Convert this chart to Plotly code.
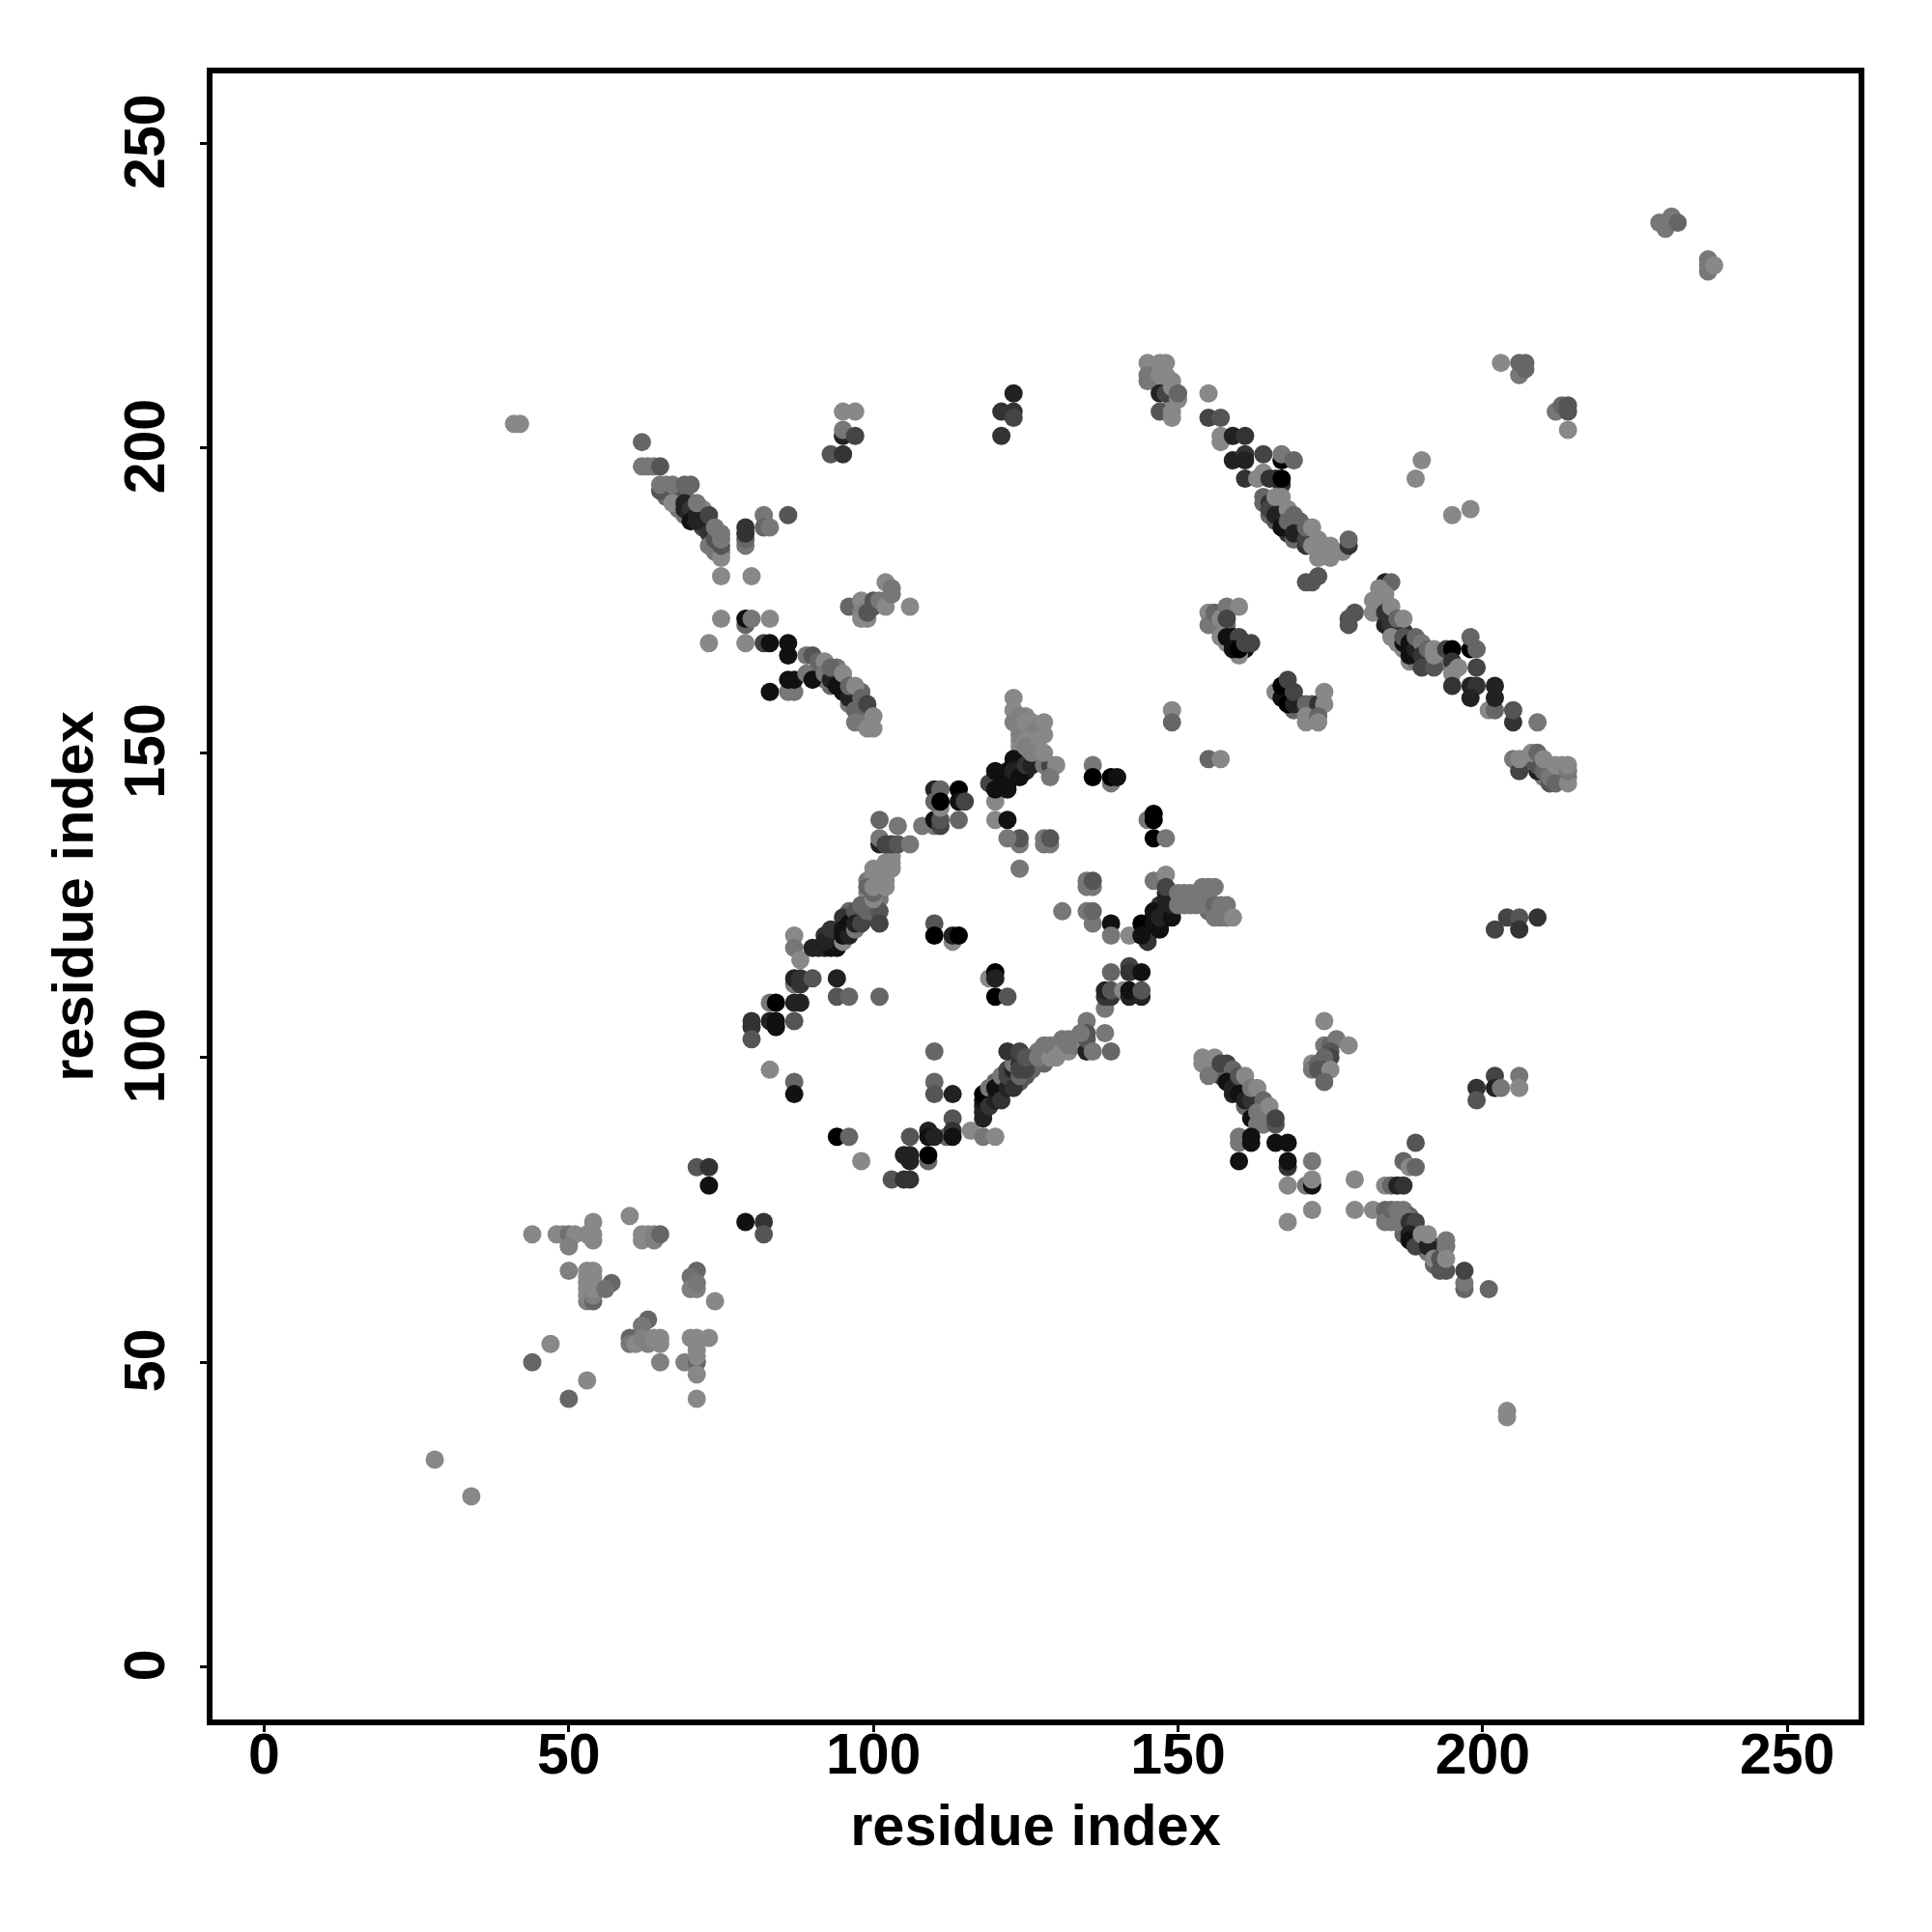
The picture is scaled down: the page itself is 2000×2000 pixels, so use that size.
import plotly.graph_objects as go

far_lower = [(28,34,0x88),(34,28,0x88),(204,42,0x88),(204,41,0x88),(41,204,0x88),(42,204,0x88)]
region_50 = [(44,71,0x88),(44,50,0x66),(47,53,0x88),(50,44,0x66),(53,47,0x88),(48,71,0x88),(49,71,0x88),(50,71,0x70),(51,71,0x88),(50,69,0x80),(54,73,0x88),(54,71,0x88),(54,70,0x88),(53,71,0x88),(60,74,0x88),(62,71,0x88),(62,70,0x88),(63,71,0x88),(64,70,0x80),(64,71,0x80),(65,71,0x66),(50,65,0x80),(53,60,0x80),(53,61,0x88),(53,62,0x88),(53,63,0x88),(53,64,0x88),(53,65,0x88),(54,60,0x66),(54,61,0x80),(54,62,0x88),(54,63,0x88),(54,64,0x88),(54,65,0x88),(57,63,0x66),(56,62,0x70),(71,65,0x66),(70,64,0x70),(70,62,0x80),(71,62,0x80),(71,63,0x77),(74,60,0x88),(63,57,0x66),(62,56,0x77),(60,54,0x66),(60,53,0x77),(61,53,0x88),(62,54,0x80),(63,53,0x80),(64,54,0x88),(65,54,0x88),(65,53,0x88),(65,50,0x80),(69,50,0x80),(71,50,0x66),(71,48,0x88),(71,51,0x88),(71,52,0x88),(70,54,0x88),(71,54,0x88),(73,54,0x88),(71,44,0x88)]
diagonal_low = [(71,82,0x55),(73,82,0x33),(73,79,0x11),(79,73,0x11),(82,73,0x33),(82,71,0x55),(94,87,0x00),(96,87,0x66),(98,83,0x88)]
left_arc = [(80,106,0x33),(80,105,0x33),(80,103,0x55),(83,98,0x88),(83,106,0x22),(84,105,0x11),(84,106,0x11),(83,109,0x77),(84,109,0x00),(87,106,0x55),(87,96,0x66),(87,94,0x11),(87,112,0x77),(87,109,0x22),(88,109,0x22),(87,113,0x22),(88,113,0x33),(88,112,0x33),(90,113,0x55),(94,113,0x22),(94,110,0x55),(96,110,0x66),(101,110,0x66),(87,120,0x88),(87,118,0x77),(88,116,0x88),(90,118,0x22),(91,118,0x22),(92,118,0x22),(93,118,0x11),(94,118,0x11),(92,119,0x22),(93,121,0x33),(95,119,0x88),(95,123,0x33),(95,121,0x11),(95,120,0x11),(96,120,0x22),(96,122,0x11),(97,121,0x77),(97,124,0x55),(97,122,0x22),(98,122,0x44),(98,125,0x66),(99,124,0x66),(100,125,0x66),(101,124,0x55),(101,122,0x44),(100,126,0x88),(99,128,0x66),(100,127,0x66),(100,128,0x88),(100,131,0x88),(101,130,0x88),(101,129,0x88),(102,129,0x88),(102,128,0x88),(103,132,0x88),(103,131,0x88),(102,132,0x88),(101,135,0x22),(101,139,0x66),(101,136,0x77),(102,135,0x44),(103,135,0x44),(104,135,0x55),(104,138,0x77),(106,135,0x77),(108,138,0x77),(110,138,0x77),(110,139,0x11),(111,138,0x44),(111,139,0x55),(111,141,0x88),(114,139,0x66),(110,144,0x22),(111,144,0x66),(110,142,0x66),(111,142,0x00),(114,144,0x00),(114,142,0x11),(115,142,0x44)]
inner = [(110,122,0x55),(110,120,0x00),(113,119,0x88),(113,120,0x22),(114,120,0x00),(119,113,0x88),(120,114,0x00),(120,113,0x22),(120,110,0x00),(122,110,0x55)]
lower_arc = [(110,101,0x66),(110,96,0x66),(110,94,0x55),(113,94,0x22),(113,90,0x55),(112,87,0x66),(113,88,0x33),(113,87,0x11),(109,88,0x22),(109,87,0x11),(110,87,0x22),(106,87,0x55),(116,88,0x88),(118,87,0x77),(120,87,0x88),(109,83,0x66),(109,84,0x00),(106,84,0x22),(105,84,0x22),(106,83,0x22),(103,80,0x55),(105,80,0x33),(106,80,0x33),(118,90,0x22),(118,91,0x22),(118,92,0x22),(118,93,0x11),(118,94,0x00),(119,92,0x33),(119,95,0x77),(120,93,0x22),(120,95,0x11),(121,93,0x33),(121,96,0x11),(121,97,0x77),(122,95,0x22),(122,97,0x44),(122,98,0x44),(123,95,0x33),(123,98,0x22),(123,99,0x77),(124,97,0x66),(124,99,0x33),(124,98,0x44),(125,98,0x44),(122,101,0x33),(124,101,0x44),(125,100,0x55),(128,99,0x66),(127,100,0x77),(128,102,0x77),(129,100,0x88),(129,102,0x77),(130,100,0x88),(131,101,0x88),(131,103,0x77),(132,102,0x77),(132,103,0x77),(135,101,0x22),(135,106,0x77),(135,104,0x55),(135,103,0x55),(134,104,0x77),(136,101,0x77),(138,104,0x77),(139,101,0x66)]
right_arc = [(138,108,0x77),(138,110,0x33),(139,110,0x33),(138,111,0x22),(139,111,0x55),(139,114,0x66),(141,111,0x88),(142,110,0x22),(142,111,0x11),(142,115,0x44),(142,114,0x33),(144,114,0x11),(144,110,0x22),(144,111,0x55),(139,122,0x11),(136,122,0x77),(135,124,0x77),(136,124,0x66),(131,124,0x77),(139,120,0x77),(142,120,0x88),(135,129,0x77),(135,128,0x77),(136,128,0x77),(136,129,0x55),(145,119,0x33),(144,122,0x00),(144,120,0x11),(146,124,0x11),(146,122,0x11),(147,121,0x11),(147,123,0x22),(148,126,0x22),(148,124,0x22),(149,123,0x11),(149,125,0x22),(146,129,0x77),(148,130,0x88),(148,128,0x44),(150,127,0x77),(151,127,0x77),(152,127,0x77),(150,125,0x77),(151,125,0x77),(152,125,0x77),(153,125,0x77),(154,128,0x77),(155,128,0x77),(156,128,0x77),(154,125,0x77),(156,125,0x66),(156,123,0x77),(157,125,0x77),(157,123,0x77),(159,123,0x88)]
top_arc = [(145,139,0x77),(146,140,0x00),(146,139,0x00),(146,136,0x00),(148,136,0x77),(136,148,0x77),(136,146,0x00),(139,145,0x77),(139,146,0x00),(140,146,0x11),(128,136,0x77),(128,135,0x77),(129,135,0x77),(129,136,0x55),(124,135,0x77),(124,136,0x55),(122,136,0x77),(124,131,0x77),(120,139,0x88),(122,139,0x11),(120,142,0x88),(119,145,0x44),(120,144,0x11),(120,147,0x11),(121,145,0x11),(122,144,0x11),(122,147,0x11),(123,149,0x11),(123,147,0x22),(124,146,0x11),(125,148,0x33),(126,148,0x22),(128,148,0x77),(129,148,0x44),(130,148,0x88),(129,146,0x77),(123,159,0x88),(123,157,0x88),(124,156,0x80),(123,155,0x80),(124,154,0x80),(125,155,0x88),(127,154,0x80),(128,155,0x88),(128,153,0x88),(126,153,0x80),(125,152,0x88),(127,152,0x88),(125,151,0x80),(127,151,0x88),(126,150,0x80),(128,150,0x88),(149,157,0x88),(149,155,0x66),(155,149,0x66),(157,149,0x88)]
upper_left_strand = [(62,201,0x66),(62,197,0x77),(63,197,0x77),(64,197,0x77),(65,197,0x55),(65,193,0x55),(65,194,0x77),(66,194,0x77),(67,192,0x55),(67,191,0x88),(67,194,0x77),(69,194,0x66),(70,194,0x66),(69,189,0x77),(69,191,0x22),(69,190,0x22),(70,190,0x33),(70,188,0x11),(71,189,0x22),(71,188,0x22),(71,191,0x77),(73,189,0x44),(73,186,0x33),(73,184,0x77),(74,185,0x55),(74,187,0x77),(75,182,0x88),(75,184,0x55),(75,185,0x77),(75,186,0x77),(75,179,0x88),(80,179,0x88),(79,184,0x77),(79,185,0x66),(79,186,0x33),(79,187,0x33),(82,189,0x77),(82,187,0x66),(83,187,0x77),(86,189,0x55)]
mid_left_strand = [(75,172,0x88),(79,171,0x66),(79,172,0x11),(80,172,0x77),(83,172,0x88),(73,168,0x88),(79,168,0x88),(82,168,0x44),(83,168,0x11),(86,168,0x11),(86,166,0x11),(83,160,0x11),(86,160,0x77),(87,160,0x77),(86,162,0x11),(87,162,0x11),(89,163,0x77),(89,166,0x77),(90,162,0x11),(90,166,0x55),(91,165,0x66),(92,165,0x88),(92,163,0x77),(93,162,0x22),(93,164,0x66),(94,161,0x11),(95,160,0x11),(95,163,0x88),(96,159,0x22),(96,161,0x66),(97,161,0x88),(97,157,0x66),(97,155,0x77),(98,159,0x66),(99,155,0x77),(99,154,0x88),(99,158,0x44),(100,156,0x88),(100,154,0x88)]
upper_groups = [(95,206,0x88),(97,206,0x88),(95,202,0x22),(95,203,0x77),(97,202,0x44),(93,199,0x55),(95,199,0x33),(96,174,0x66),(98,175,0x88),(98,173,0x80),(98,172,0x88),(99,172,0x88),(99,173,0x55),(100,175,0x55),(100,174,0x55),(101,175,0x77),(102,174,0x88),(102,178,0x88),(103,177,0x77),(103,176,0x77),(106,174,0x88),(121,206,0x33),(123,206,0x33),(123,209,0x22),(123,205,0x44),(121,202,0x33)]
right_strand_top = [(145,214,0x88),(145,212,0x77),(145,211,0x77),(147,209,0x22),(148,209,0x44),(147,206,0x55),(147,214,0x88),(148,214,0x88),(147,212,0x88),(148,212,0x88),(149,210,0x88),(149,206,0x88),(149,205,0x88),(150,208,0x88),(150,209,0x66),(155,209,0x88),(155,205,0x44),(157,205,0x55),(157,202,0x88),(157,201,0x88),(159,202,0x22),(161,202,0x33),(159,198,0x22),(161,199,0x33),(161,198,0x22),(164,199,0x44),(161,195,0x33),(167,198,0x00),(167,199,0x77),(169,198,0x66),(164,196,0x88),(163,195,0x88),(165,195,0x33),(166,195,0x33),(167,194,0x33),(167,195,0x00),(164,192,0x66),(165,191,0x33),(165,190,0x44),(166,192,0x88),(167,192,0x88),(166,188,0x55),(166,189,0x22),(167,189,0x22),(167,187,0x11),(168,190,0x88),(168,188,0x66),(169,189,0x66),(169,185,0x66),(169,186,0x22),(171,184,0x33),(171,185,0x44),(171,187,0x66),(172,187,0x88),(172,184,0x88),(173,185,0x88),(174,184,0x88),(173,182,0x88),(175,184,0x88),(175,182,0x88),(177,183,0x88),(178,184,0x33),(178,185,0x66),(171,178,0x55),(172,178,0x55),(173,179,0x55)]
right_strand_mid = [(178,171,0x55),(178,172,0x55),(179,173,0x55),(184,178,0x22),(185,178,0x66),(183,177,0x88),(182,175,0x88),(183,175,0x88),(184,176,0x88),(184,175,0x88),(182,173,0x88),(184,171,0x22),(184,173,0x33),(185,174,0x88),(185,171,0x33),(186,172,0x66),(187,172,0x88),(185,169,0x88),(187,168,0x11),(187,169,0x55),(188,168,0x11),(188,166,0x11),(189,167,0x22),(189,169,0x66),(190,168,0x77),(190,166,0x33),(190,164,0x44),(191,167,0x66),(192,164,0x55),(192,166,0x88),(192,167,0x88),(194,167,0x44),(195,167,0x00),(198,167,0x00),(198,169,0x66),(199,167,0x66),(195,165,0x33),(195,163,0x88),(196,164,0x88),(199,164,0x44),(195,161,0x33),(198,161,0x22),(199,161,0x33),(198,159,0x22),(201,157,0x88),(202,157,0x66),(202,159,0x22),(202,161,0x22),(205,155,0x33),(205,157,0x55),(209,155,0x77)]
right_pairs = [(203,214,0x88),(206,212,0x77),(206,214,0x66),(207,214,0x66),(207,213,0x66),(212,206,0x77),(213,207,0x66),(214,207,0x55),(214,206,0x55),(214,203,0x88),(190,198,0x88),(189,195,0x88),(195,189,0x88),(198,190,0x88),(202,121,0x44),(204,123,0x44),(206,123,0x55),(206,121,0x33),(209,123,0x33)]
inner_upper = [(155,173,0x88),(155,171,0x77),(156,173,0x66),(157,172,0x88),(158,174,0x77),(160,174,0x88),(158,172,0x44),(157,169,0x88),(160,166,0x88),(158,169,0x11),(159,169,0x11),(160,169,0x44),(159,167,0x11),(160,167,0x00),(161,168,0x44),(162,168,0x44),(166,160,0x88),(167,159,0x11),(167,161,0x00),(168,162,0x44),(169,157,0x66),(168,158,0x00),(169,158,0x22),(169,160,0x44),(171,158,0x66),(173,158,0x33),(174,160,0x88),(174,158,0x88),(171,156,0x88),(171,155,0x88),(173,156,0x66),(173,155,0x88)]
far_right = [(205,149,0x77),(206,147,0x44),(206,149,0x88),(209,147,0x22),(209,148,0x55),(208,150,0x88),(209,150,0x66),(210,147,0x66),(210,149,0x88),(211,145,0x55),(211,146,0x77),(212,145,0x66),(212,148,0x88),(214,145,0x88),(214,147,0x77),(214,148,0x88)]
lower_right_strand = [(154,100,0x88),(154,99,0x88),(156,100,0x88),(155,97,0x77),(157,99,0x44),(158,99,0x44),(159,98,0x66),(158,96,0x11),(159,95,0x22),(159,94,0x22),(160,97,0x55),(161,97,0x88),(160,94,0x11),(161,93,0x22),(162,93,0x33),(162,95,0x77),(163,95,0x88),(164,93,0x66),(162,90,0x11),(163,91,0x77),(163,89,0x77),(165,92,0x88),(166,89,0x55),(166,90,0x44),(160,87,0x77),(160,86,0x77),(162,87,0x11),(162,86,0x11),(166,86,0x11),(168,86,0x11),(160,83,0x11),(168,82,0x33),(168,83,0x11),(172,83,0x77),(168,79,0x88),(171,79,0x77),(172,79,0x11),(172,80,0x88),(172,75,0x88),(168,73,0x88),(179,80,0x88),(179,75,0x88),(182,75,0x88),(184,79,0x88),(185,79,0x66),(186,79,0x22),(187,79,0x33),(187,83,0x66),(188,82,0x88),(189,82,0x66),(189,86,0x55),(184,75,0x66),(184,73,0x77),(185,75,0x66),(186,75,0x77),(186,73,0x77),(187,74,0x77),(188,73,0x33),(189,73,0x44),(188,71,0x22),(188,70,0x11),(189,69,0x44),(190,71,0x88),(191,69,0x22),(191,71,0x88),(192,67,0x88),(193,67,0x55),(194,69,0x77),(194,70,0x77),(193,65,0x55),(194,65,0x55),(194,67,0x88),(197,62,0x66),(197,63,0x77),(197,65,0x44),(201,62,0x66)]
small_groups = [(174,106,0x88),(174,102,0x77),(175,102,0x66),(176,103,0x77),(178,102,0x88),(175,101,0x55),(175,100,0x44),(174,100,0x66),(172,99,0x88),(172,98,0x77),(173,99,0x66),(173,98,0x55),(174,98,0x55),(175,98,0x88),(174,96,0x66),(202,97,0x44),(202,95,0x22),(199,95,0x33),(199,93,0x55),(203,95,0x77),(206,97,0x77),(206,95,0x88)]
top_right = [(229,237,0x77),(230,236,0x77),(230,237,0x77),(231,238,0x77),(232,237,0x66),(237,231,0x77),(237,230,0x77),(237,229,0x77),(238,230,0x88)]

core_right_top = [(166,190,0x33),(167,190,0x22),(167,188,0x22),(168,187,0x22),(168,186,0x33),(169,187,0x22),(170,186,0x33),(170,185,0x33),(170,188,0x66),(171,186,0x55),(165,189,0x66),(164,191,0x66),(166,191,0x44),(168,189,0x44),(146,213,0x88),(146,212,0x88),(146,211,0x88),(147,210,0x88),(148,210,0x33),(148,211,0x88),(149,209,0x88),(149,207,0x88),(149,211,0x88),(149,208,0x88)]
core_lower_right = [(157,97,0x44),(158,97,0x33),(158,98,0x44),(159,96,0x22),(160,96,0x22),(160,95,0x11),(161,95,0x22),(161,94,0x22),(162,94,0x22),(163,93,0x33),(163,92,0x33),(164,92,0x44),(164,91,0x55),(165,91,0x55),(165,90,0x66),(156,98,0x77),(157,98,0x66),(161,92,0x66),(162,92,0x66),(163,90,0x66),(164,89,0x77),(187,72,0x33),(188,72,0x22),(189,71,0x22),(189,70,0x11),(190,70,0x22),(190,69,0x33),(187,71,0x66),(191,70,0x44),(192,69,0x44),(192,68,0x55),(193,68,0x66),(191,68,0x77),(192,66,0x66),(193,66,0x55),(184,74,0x66),(185,74,0x66),(185,73,0x77),(186,74,0x66),(187,73,0x44),(187,75,0x77),(188,74,0x66),(189,72,0x44)]
core_right_mid = [(185,170,0x33),(186,170,0x22),(186,169,0x22),(187,170,0x33),(188,167,0x22),(188,169,0x33),(189,168,0x22),(189,166,0x33),(190,167,0x33),(191,166,0x44),(191,165,0x44),(192,165,0x55),(193,165,0x55),(193,166,0x66),(186,168,0x88),(187,167,0x88),(188,165,0x88),(189,165,0x77),(190,165,0x66),(194,165,0x77)]
core_left = [(91,163,0x55),(92,164,0x55),(93,163,0x44),(94,162,0x22),(94,163,0x55),(95,161,0x11),(95,162,0x44),(96,160,0x11),(97,159,0x11),(97,160,0x22),(98,158,0x33),(98,160,0x66),(96,158,0x77),(97,158,0x44),(98,157,0x55),(99,156,0x77),(99,157,0x55),(94,164,0x77),(93,161,0x66),(92,162,0x77),(91,164,0x66),(68,192,0x66),(68,193,0x77),(66,192,0x66),(66,193,0x66),(70,191,0x44),(70,189,0x22),(71,190,0x55),(72,188,0x33),(72,187,0x44),(73,187,0x33),(74,186,0x55),(74,184,0x66),(74,183,0x77),(69,192,0x66),(68,190,0x77),(72,190,0x88),(75,183,0x77)]
core_arcs = [(94,119,0x11),(94,120,0x22),(93,119,0x22),(92,120,0x33),(96,121,0x22),(97,123,0x33),(98,123,0x55),(98,124,0x66),(99,123,0x66),(100,124,0x55),(100,123,0x55),(99,126,0x88),(101,127,0x88),(101,128,0x88),(102,130,0x88),(102,131,0x88),(101,126,0x77),(99,127,0x88),(99,129,0x77),(100,129,0x88),(100,130,0x88),(103,133,0x88),(96,124,0x66),(119,94,0x22),(119,93,0x22),(120,94,0x33),(120,96,0x66),(121,95,0x22),(122,96,0x22),(123,96,0x44),(123,97,0x33),(124,96,0x55),(125,99,0x55),(125,97,0x55),(126,100,0x77),(126,98,0x66),(127,101,0x77),(128,101,0x77),(130,102,0x88),(130,101,0x88),(131,102,0x77),(132,101,0x88),(133,102,0x77),(133,103,0x88),(127,99,0x66),(120,145,0x11),(120,146,0x11),(121,144,0x11),(121,146,0x11),(122,145,0x11),(122,146,0x22),(123,146,0x11),(123,148,0x11),(124,147,0x22),(124,148,0x33),(125,147,0x22),(127,149,0x88),(126,149,0x88),(125,149,0x77),(124,149,0x66),(124,150,0x88),(124,152,0x88),(125,153,0x88),(126,152,0x88),(126,151,0x88),(126,154,0x88),(127,153,0x88),(124,151,0x88),(124,153,0x80),(124,155,0x88),(125,156,0x88),(126,155,0x88),(145,120,0x11),(145,121,0x22),(146,121,0x11),(146,123,0x22),(147,122,0x11),(147,124,0x22),(148,123,0x11),(148,125,0x22),(149,124,0x22),(147,125,0x33),(148,127,0x33),(149,127,0x77),(149,126,0x77),(150,126,0x77),(151,126,0x88),(152,126,0x88),(153,126,0x88),(153,127,0x77),(154,126,0x88),(155,127,0x88),(155,125,0x77),(156,124,0x77),(155,124,0x66),(158,123,0x77),(158,125,0x77)]
core_inner = [(168,160,0x11),(167,160,0x00),(168,159,0x00),(169,159,0x11),(170,158,0x22),(171,157,0x66),(172,157,0x77),(172,156,0x88),(172,158,0x55),(173,157,0x66),(158,171,0x77),(158,170,0x66),(158,173,0x77),(156,171,0x88),(156,172,0x77),(157,170,0x88),(158,168,0x88),(159,168,0x00),(160,168,0x11),(161,167,0x11),(210,148,0x77),(211,148,0x88),(211,147,0x88),(212,147,0x88),(212,146,0x77),(213,146,0x88),(213,147,0x88),(207,149,0x66),(208,149,0x55),(209,149,0x66),(210,146,0x77),(213,148,0x88),(214,146,0x77)]

regions = [core_right_top, core_lower_right, core_right_mid, core_left, core_arcs, core_inner,
           far_lower, region_50, diagonal_low, left_arc, inner, lower_arc, right_arc, top_arc,
           upper_left_strand, mid_left_strand, upper_groups, right_strand_top, right_strand_mid,
           right_pairs, inner_upper, far_right, lower_right_strand, small_groups, top_right]

points = [p for region in regions for p in region]
residue_i = [p[0] for p in points]
residue_j = [p[1] for p in points]
shade = [f"rgb({p[2]},{p[2]},{p[2]})" for p in points]

tick_values = [0, 50, 100, 150, 200, 250]
axis_title = "residue index"
FONT = "Liberation Sans"

fig = go.Figure(go.Scatter(
    x=residue_i, y=residue_j, mode="markers",
    marker=dict(size=19, color=shade, line=dict(width=0)),
))

def axis(rng, label_shift, standoff, **kw):
    return dict(
        range=rng, tickmode="array", tickvals=tick_values, ticktext=[str(v) for v in tick_values],
        showgrid=False, zeroline=False, showline=True, mirror=True, linecolor="black", linewidth=5.5,
        ticks="outside", ticklen=7, tickwidth=3, tickcolor="black", ticklabelstandoff=label_shift,
        tickfont=dict(family=FONT, size=59, color="black", weight=700),
        title=dict(text=axis_title, font=dict(family=FONT, size=59.5, color="black", weight=700), standoff=standoff),
        **kw,
    )

fig.update_layout(
    width=2000, height=2000, showlegend=False,
    paper_bgcolor="white", plot_bgcolor="white",
    margin=dict(l=219.5, r=75.5, t=75.5, b=219.5, autoexpand=False),
    xaxis=axis([-8.48, 261.7], -28, 23),
    yaxis=axis([-8.63, 261.5], 14, 3, tickangle=-90, ticklabelshift=7),
)
fig.write_html("out.html", config=dict(displayModeBar=False),
               post_script="document.body.style.margin='0';window.dispatchEvent(new Event('resize'));")
